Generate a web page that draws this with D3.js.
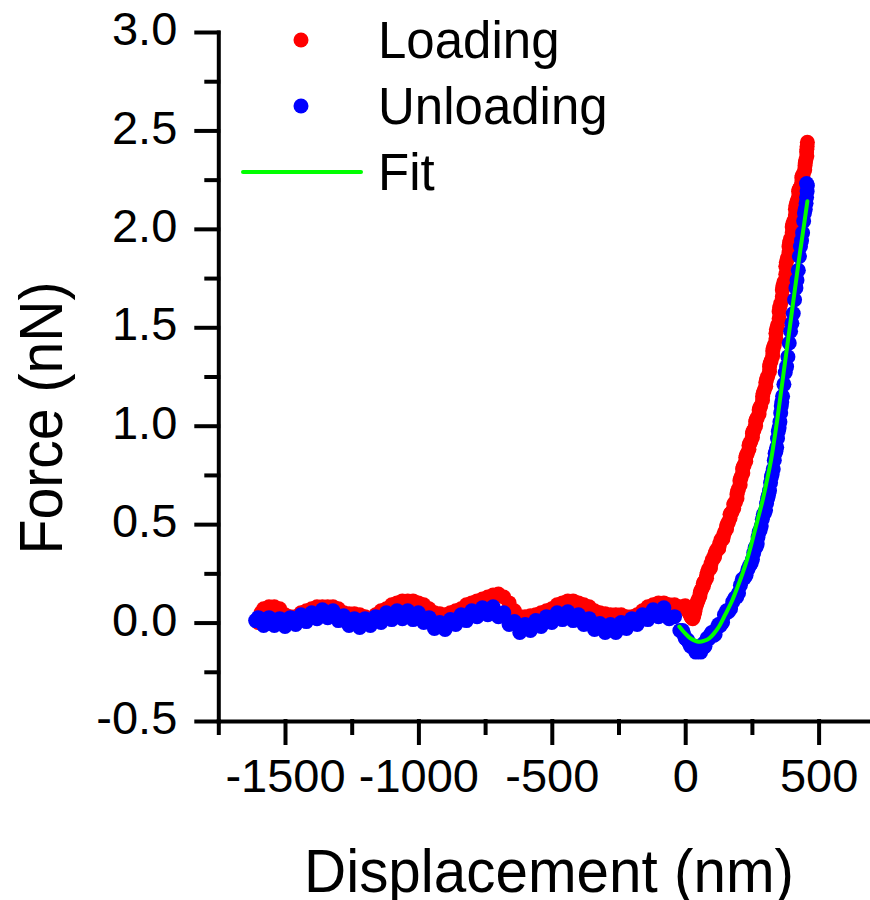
<!DOCTYPE html>
<html>
<head>
<meta charset="utf-8">
<script src="https://cdn.jsdelivr.net/npm/d3@7"></script>
<style>
	body { margin: 0; background: #fff; }
	svg { font-family: Arial, "Liberation Sans", sans-serif; }
</style>
</head>
<body>
<div id="chart"></div>
<script>
// Loading curve (displacement nm, force nN)
var loading = [
	[-1600,0.00],[-1590,0.05],[-1580,0.07],[-1560,0.08],[-1540,0.08],[-1520,0.07],[-1500,0.04],[-1480,0.03],
	[-1460,0.03],[-1440,0.05],[-1420,0.06],[-1400,0.07],[-1380,0.08],[-1360,0.08],[-1340,0.08],[-1320,0.08],
	[-1300,0.07],[-1280,0.05],[-1260,0.045],[-1240,0.045],[-1220,0.04],[-1200,0.03],[-1180,0.02],[-1160,0.04],
	[-1140,0.06],[-1120,0.07],[-1100,0.09],[-1080,0.10],[-1060,0.11],[-1040,0.11],[-1020,0.11],[-1000,0.10],
	[-980,0.09],[-960,0.07],[-940,0.05],[-920,0.045],[-900,0.04],[-880,0.05],[-860,0.06],[-840,0.07],
	[-820,0.09],[-800,0.10],[-780,0.11],[-760,0.12],[-740,0.13],[-720,0.14],[-700,0.145],[-680,0.13],
	[-660,0.10],[-640,0.06],[-620,0.03],[-600,0.03],[-580,0.035],[-560,0.04],[-540,0.05],[-520,0.06],
	[-500,0.07],[-480,0.09],[-460,0.10],[-440,0.11],[-420,0.11],[-400,0.10],[-380,0.09],[-360,0.08],
	[-340,0.06],[-320,0.05],[-300,0.045],[-280,0.04],[-260,0.04],[-240,0.04],[-220,0.03],[-200,0.03],
	[-180,0.04],[-160,0.06],[-140,0.08],[-120,0.09],[-100,0.10],[-80,0.10],[-60,0.09],[-40,0.09],[-20,0.08],
	[-5,0.08],[0,0.085],[5,0.07],[10,0.06],[15,0.05],[19,0.04],[22,0.03],[25,0.025],[28,0.02],[31,0.03],
	[33,0.04],[36,0.055],[38,0.07],[42,0.09],[44,0.10],[47,0.11],[50,0.12],[55,0.135],[56,0.15],[58,0.16],
	[62,0.17],[68,0.185],[68,0.20],[70,0.205],[74,0.21],[80,0.225],[80,0.24],[83,0.255],[87,0.27],[94,0.275],
	[94,0.28],[97,0.30],[102,0.32],[109,0.33],[110,0.34],[113,0.355],[118,0.37],[125,0.375],[126,0.38],
	[129,0.40],[134,0.42],[141,0.425],[141,0.43],[144,0.445],[148,0.46],[155,0.475],[155,0.49],[158,0.50],
	[162,0.51],[168,0.53],[168,0.55],[171,0.555],[175,0.56],[182,0.58],[182,0.60],[184,0.605],[188,0.61],
	[194,0.63],[194,0.65],[196,0.665],[200,0.68],[206,0.70],[205,0.72],[207,0.73],[210,0.74],[216,0.76],
	[215,0.78],[217,0.79],[221,0.80],[227,0.82],[227,0.84],[229,0.85],[233,0.86],[239,0.88],[239,0.90],
	[242,0.91],[246,0.92],[252,0.94],[252,0.96],[254,0.97],[258,0.98],[264,1.00],[264,1.02],[266,1.03],
	[270,1.04],[277,1.06],[277,1.08],[279,1.09],[283,1.10],[290,1.13],[290,1.15],[292,1.165],[296,1.18],
	[302,1.20],[302,1.22],[305,1.235],[309,1.25],[316,1.275],[316,1.30],[318,1.315],[322,1.33],[328,1.355],
	[328,1.38],[330,1.395],[334,1.41],[340,1.44],[340,1.47],[342,1.49],[346,1.51],[352,1.545],[352,1.58],
	[354,1.60],[358,1.62],[364,1.655],[364,1.69],[366,1.71],[370,1.73],[377,1.77],[377,1.81],[379,1.83],
	[383,1.85],[389,1.88],[389,1.91],[391,1.93],[395,1.95],[401,1.98],[401,2.01],[403,2.025],[407,2.04],
	[413,2.07],[413,2.10],[415,2.12],[419,2.14],[425,2.165],[425,2.19],[427,2.20],[431,2.21],[437,2.235],
	[437,2.26],[439,2.27],[443,2.28],[448,2.30],[449,2.32],[450,2.335],[452,2.35],[456,2.37],[455,2.39],
	[456,2.405],[457,2.42],[458,2.44]
];

// Unloading curve
var unloading = [
	[-1610,0.01],[-1600,0.025],[-1580,-0.015],[-1560,0.025],[-1540,-0.015],[-1520,0.02],[-1500,-0.02],
	[-1480,0.025],[-1460,-0.01],[-1440,0.04],[-1420,0.005],[-1400,0.05],[-1380,0.02],[-1360,0.065],
	[-1340,0.025],[-1320,0.06],[-1300,0.01],[-1280,0.035],[-1260,-0.015],[-1240,0.02],[-1220,-0.025],
	[-1200,0.02],[-1180,-0.015],[-1160,0.03],[-1140,0.0],[-1120,0.05],[-1100,0.015],[-1080,0.06],
	[-1060,0.02],[-1040,0.06],[-1020,0.015],[-1000,0.05],[-980,0.0],[-960,0.025],[-940,-0.03],[-920,0.0],
	[-900,-0.035],[-880,0.015],[-860,-0.01],[-840,0.04],[-820,0.01],[-800,0.06],[-780,0.03],[-760,0.075],
	[-740,0.04],[-720,0.08],[-700,0.03],[-680,0.05],[-660,-0.01],[-640,0.005],[-620,-0.05],[-600,-0.01],
	[-580,-0.04],[-560,0.01],[-540,-0.02],[-520,0.03],[-500,0.0],[-480,0.05],[-460,0.015],[-440,0.055],
	[-420,0.01],[-400,0.04],[-380,-0.01],[-360,0.02],[-340,-0.035],[-320,-0.005],[-300,-0.05],[-280,-0.01],
	[-260,-0.05],[-240,0.0],[-220,-0.03],[-200,0.02],[-180,-0.01],[-160,0.04],[-140,0.015],[-120,0.065],
	[-100,0.03],[-80,0.075],[-60,0.02],[-40,0.03],[-20,-0.04],
	[-10,-0.04],[-5,-0.06],[0,-0.08],[5,-0.085],[10,-0.09],[15,-0.105],[20,-0.12],[25,-0.115],[30,-0.12],
	[35,-0.135],[40,-0.15],[45,-0.14],[50,-0.13],[54,-0.145],[58,-0.15],[62,-0.13],[66,-0.11],[70,-0.125],
	[74,-0.12],[78,-0.095],[82,-0.08],[86,-0.085],[90,-0.08],[95,-0.06],[100,-0.05],[106,-0.065],
	[112,-0.06],[118,-0.03],[125,-0.01],[132,-0.015],[140,0.0],[147,0.04],[155,0.06],[162,0.055],
	[170,0.07],[178,0.105],[186,0.125],[193,0.13],[200,0.15],[207,0.19],[214,0.22],[221,0.225],
	[228,0.24],[235,0.27],[242,0.29],[247,0.30],[252,0.32],[257,0.355],[262,0.38],[266,0.385],[270,0.40],
	[273,0.435],[277,0.46],[281,0.47],[285,0.49],[289,0.525],[293,0.55],[297,0.555],[301,0.57],
	[305,0.605],[309,0.63],[312,0.645],[316,0.67],[320,0.71],[323,0.74],[326,0.755],[330,0.78],
	[334,0.825],[337,0.86],[340,0.87],[343,0.89],[346,0.935],[349,0.97],[352,0.99],[355,1.02],
	[358,1.065],[360,1.10],[362,1.12],[365,1.15],[370,1.21],[375,1.27],[380,1.30],[385,1.35],[390,1.42],
	[395,1.48],[400,1.52],[405,1.57],[410,1.64],[415,1.70],[419,1.74],[424,1.79],[428,1.86],[432,1.91],
	[436,1.94],[440,1.98],[444,2.04],[447,2.08],[450,2.10],[453,2.13],[455,2.16],[457,2.19],[458,2.22],
	[455,2.23]
];

// Fit of the unloading curve
var fit = [
	[-22,-0.02],[-10,-0.04],[0,-0.055],[15,-0.075],[30,-0.088],[45,-0.096],[55,-0.098],[70,-0.093],
	[90,-0.08],[108,-0.055],[127,-0.02],[150,0.04],[177,0.115],[196,0.18],[215,0.25],[234,0.33],
	[252,0.42],[271,0.52],[290,0.62],[306,0.72],[321,0.82],[334,0.93],[346,1.04],[358,1.16],[370,1.28],
	[382,1.40],[395,1.53],[410,1.68],[425,1.83],[440,1.97],[458,2.14]
];

var xMajor = [-1500, -1000, -500, 0, 500];
var xMinor = [-1750, -1250, -750, -250, 250, 750];
var yMajor = [-0.5, 0, 0.5, 1.0, 1.5, 2.0, 2.5, 3.0];
var yMinor = [-0.25, 0.25, 0.75, 1.25, 1.75, 2.25, 2.75];

var legendItems = [
	{label: 'Loading', color: '#ff0000', type: 'dot'},
	{label: 'Unloading', color: '#0000ff', type: 'dot'},
	{label: 'Fit', color: '#00ff00', type: 'line'}
];

var width = 870, height = 900;

var svg = d3.select('#chart')
	.append('svg')
		.attr('width', width)
		.attr('height', height);

var x = d3.scaleLinear().domain([-1750, 750]).range([218.3, 885.3]);
var y = d3.scaleLinear().domain([-0.5, 3.0]).range([721, 32]);

// Series
svg.append('g').selectAll('circle')
	.data(loading)
	.enter().append('circle')
		.attr('cx', function(d) { return x(d[0]); })
		.attr('cy', function(d) { return y(d[1]); })
		.attr('r', 7.5)
		.style('fill', '#ff0000');

svg.append('g').selectAll('circle')
	.data(unloading)
	.enter().append('circle')
		.attr('cx', function(d) { return x(d[0]); })
		.attr('cy', function(d) { return y(d[1]); })
		.attr('r', 7.5)
		.style('fill', '#0000ff');

var line = d3.line()
	.x(function(d) { return x(d[0]); })
	.y(function(d) { return y(d[1]); })
	.curve(d3.curveCatmullRom);

svg.append('path')
	.datum(fit)
	.attr('d', line)
	.style('fill', 'none')
	.style('stroke', '#00ff00')
	.style('stroke-width', 4)
	.style('stroke-linecap', 'round');

// Axes
function styleAxis(g) {
	g.selectAll('path, line')
		.style('stroke', '#000')
		.style('stroke-width', 4)
		.style('stroke-linecap', 'square');
	g.selectAll('text')
		.style('font-size', '47px')
		.style('fill', '#000');
}

function signed(fmt) {
	return function(d) { return (d < 0 ? '-' : '') + d3.format(fmt)(Math.abs(d)); };
}

var xAxis = svg.append('g')
	.attr('transform', 'translate(0,' + y(-0.5) + ')');
xAxis.append('g')
	.call(d3.axisBottom(x).tickValues(xMinor).tickSize(12).tickSizeOuter(0).tickFormat(function() { return ''; }))
	.call(styleAxis);
xAxis.append('g')
	.call(d3.axisBottom(x).tickValues(xMajor).tickSize(22).tickSizeOuter(0).tickPadding(16).tickFormat(signed('d')))
	.call(styleAxis)
	.call(function(g) { g.select('.domain').remove(); });

var yAxis = svg.append('g')
	.attr('transform', 'translate(' + x(-1750) + ',0)');
yAxis.append('g')
	.call(d3.axisLeft(y).tickValues(yMinor).tickSize(12).tickSizeOuter(0).tickFormat(function() { return ''; }))
	.call(styleAxis);
yAxis.append('g')
	.call(d3.axisLeft(y).tickValues(yMajor).tickSize(22).tickSizeOuter(0).tickPadding(19).tickFormat(signed('.1f')))
	.call(styleAxis)
	.call(function(g) { g.select('.domain').remove(); })
	.call(function(g) { g.selectAll('text').attr('dy', '0.27em'); });

// Axis titles
svg.append('text')
	.attr('x', 549)
	.attr('y', 892)
	.attr('text-anchor', 'middle')
	.attr('textLength', 490)
	.attr('lengthAdjust', 'spacingAndGlyphs')
	.style('font-size', '62px')
	.text('Displacement (nm)');

svg.append('text')
	.attr('transform', 'translate(62,418) rotate(-90)')
	.attr('text-anchor', 'middle')
	.attr('textLength', 273)
	.attr('lengthAdjust', 'spacingAndGlyphs')
	.style('font-size', '62px')
	.text('Force (nN)');

// Legend
var legend = svg.selectAll('.legend')
	.data(legendItems)
	.enter().append('g')
		.attr('class', 'legend')
		.attr('transform', function(d, i) { return 'translate(0,' + (40 + i * 66) + ')'; });

legend.filter(function(d) { return d.type == 'dot'; })
	.append('circle')
		.attr('cx', 301)
		.attr('r', 7.5)
		.style('fill', function(d) { return d.color; });

legend.filter(function(d) { return d.type == 'line'; })
	.append('line')
		.attr('x1', 243)
		.attr('x2', 361)
		.style('stroke', function(d) { return d.color; })
		.style('stroke-width', 4)
		.style('stroke-linecap', 'round');

legend.append('text')
	.attr('x', 378)
	.attr('y', 18)
	.style('font-size', '51px')
	.text(function(d) { return d.label; });
</script>
</body>
</html>
